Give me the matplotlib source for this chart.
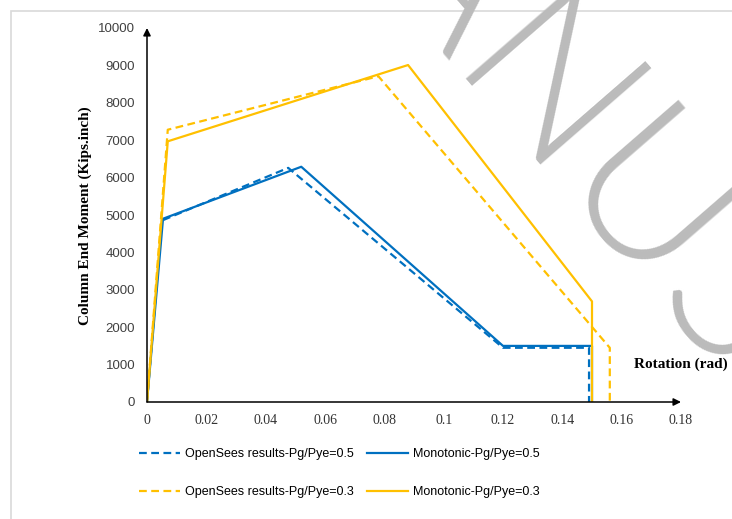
import numpy as np
import matplotlib
matplotlib.use("Agg")
import matplotlib.pyplot as plt
from matplotlib.patches import Rectangle

# ---- data ----
ops05_x = [0, 0.005, 0.0476, 0.12, 0.149, 0.149]
ops05_y = [0, 4850, 6260, 1450, 1450, 0]
mono05_x = [0, 0.0054, 0.052, 0.12, 0.15, 0.15]
mono05_y = [0, 4900, 6290, 1500, 1500, 0]
ops03_x = [0, 0.007, 0.078, 0.156, 0.156]
ops03_y = [0, 7280, 8710, 1450, 0]
mono03_x = [0, 0.007, 0.088, 0.15, 0.15]
mono03_y = [0, 6970, 9010, 2690, 0]
labels = ["OpenSees results-Pg/Pye=0.5", "Monotonic-Pg/Pye=0.5",
          "OpenSees results-Pg/Pye=0.3", "Monotonic-Pg/Pye=0.3"]
xticks = [0, 0.02, 0.04, 0.06, 0.08, 0.1, 0.12, 0.14, 0.16, 0.18]
xticklabels = ["0", "0.02", "0.04", "0.06", "0.08", "0.1", "0.12", "0.14", "0.16", "0.18"]
yticks = list(range(0, 10001, 1000))

BLUE = "#0070C0"
GOLD = "#FFC000"
W, H = 732, 519

fig = plt.figure(figsize=(W / 100, H / 100), dpi=100)
fig.patch.set_facecolor("white")

# light frame
fig.patches.append(Rectangle((11 / W, -0.1), 1.2, 1 - 11 / H + 0.1, transform=fig.transFigure,
                             fill=False, edgecolor="#D9D9D9", lw=1.2))

ax = fig.add_axes([147 / W, 1 - 402 / H, (681 - 147) / W, (402 - 28) / H])
ax.set_xlim(0, 0.18)
ax.set_ylim(0, 10000)
for s in ax.spines.values():
    s.set_visible(False)
ax.set_facecolor("none")

ls_dash = (0, (3.5, 2))
l1, = ax.plot(ops05_x, ops05_y, color=BLUE, lw=1.6, ls=ls_dash)
l2, = ax.plot(mono05_x, mono05_y, color=BLUE, lw=1.6)
l3, = ax.plot(ops03_x, ops03_y, color=GOLD, lw=1.6, ls=ls_dash)
l4, = ax.plot(mono03_x, mono03_y, color=GOLD, lw=1.6)

# axes with arrows
arrow = dict(arrowstyle="-|>", color="black", lw=1.1, mutation_scale=11, shrinkA=0, shrinkB=0)
ax.annotate("", xy=(0, 1), xytext=(0, 0), xycoords="axes fraction", arrowprops=arrow)
ax.annotate("", xy=(1, 0), xytext=(0, 0), xycoords="axes fraction", arrowprops=arrow)

ax.set_xticks(xticks)
ax.set_xticklabels(xticklabels, fontfamily="Liberation Serif", fontsize=10, color="#333333")
ax.set_yticks(yticks)
ax.set_yticklabels([str(v) for v in yticks], fontfamily="Liberation Sans", fontsize=9.5, color="#404040")
ax.tick_params(axis="both", length=0)
ax.tick_params(axis="x", pad=9)
ax.tick_params(axis="y", pad=8.5)

ax.set_ylabel("Column End Moment (Kips.inch)", fontfamily="Liberation Serif", fontweight="bold",
              fontsize=11)
ax.yaxis.set_label_coords(92 / W, 1 - 216 / H, transform=fig.transFigure)
fig.text(728 / W, 1 - 364 / H, "Rotation (rad)", fontfamily="Liberation Serif", fontweight="bold",
         fontsize=11, ha="right", va="center")

fig.legend([l1, l3, l2, l4], [labels[0], labels[2], labels[1], labels[3]], ncol=2, loc="upper left",
           bbox_to_anchor=(139 / W, 1 - 448 / H), frameon=False,
           prop=dict(family="Liberation Sans", size=9), handlelength=3.3, handletextpad=0.35,
           columnspacing=1.1, labelspacing=2.1, borderpad=0, borderaxespad=0)

# watermark
fs = 150
wm_dir = np.array([np.cos(np.deg2rad(-49)), np.sin(np.deg2rad(-49))])
r = fig.canvas.get_renderer()
tmp = fig.text(0, 0, "MA", fontsize=fs, fontfamily="Lato", fontweight=300)
wa = tmp.get_window_extent(r).width
tmp.remove()
npos = np.array([443.0, H - 79.0])
start = npos - wa * wm_dir
fig.text(start[0] / W, start[1] / H, "MANUSCRIPT", fontsize=fs, fontfamily="Lato", fontweight=300,
         color="#BBBBBB", rotation=-49, rotation_mode="anchor", ha="left", va="baseline", zorder=10)

fig.savefig("out.png", dpi=100)
